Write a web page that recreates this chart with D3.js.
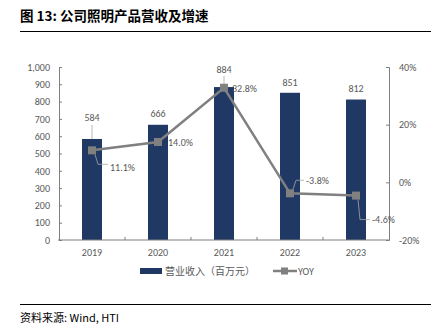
<!DOCTYPE html>
<html><head><meta charset="utf-8">
<script src="https://cdn.jsdelivr.net/npm/d3@7"></script>
<style>body{margin:0;background:#fff}svg{display:block}</style>
</head><body><svg id="c" width="443" height="335"></svg>
<script>
const categories = ["2019","2020","2021","2022","2023"];
const revenue = [584, 666, 884, 851, 812];
const yoy = [11.1, 14.0, 32.8, -3.8, -4.6];
const leftTicks = [0,100,200,300,400,500,600,700,800,900,1000];
const rightTicks = [-20,0,20,40];
const titleText = "图 13: 公司照明产品营收及增速";
const sourceText = "资料来源: Wind, HTI";
const legendLabels = ["营业收入（百万元）","YOY"];

const svg = d3.select("#c");
const font = "Calibri, Carlito, 'Liberation Sans', 'Noto Sans CJK SC', sans-serif";
const cjk = "'Noto Sans CJK SC', sans-serif";
const L = 59, R = 389, T = 67, B = 240;
const barColor = "#203864", lineColor = "#808080", textColor = "#595959";

svg.append("text").attr("x",20).attr("y",21).attr("font-family",cjk).attr("font-size",13.5).attr("font-weight","bold").attr("fill","#000").text(titleText);
svg.append("line").attr("x1",20).attr("x2",431).attr("y1",31.5).attr("y2",31.5).attr("stroke","#000").attr("stroke-width",1);
svg.append("line").attr("x1",20).attr("x2",431).attr("y1",304.5).attr("y2",304.5).attr("stroke","#000").attr("stroke-width",1);
svg.append("text").attr("x",20).attr("y",322).attr("font-family",cjk).attr("font-size",11).attr("fill","#000").text(sourceText);

const xb = d3.scaleBand().domain(categories).range([L,R]);
const y = d3.scaleLinear().domain([0,1000]).range([B,T]);
const y2 = d3.scaleLinear().domain([-20,40]).range([B,T]);

// bars
svg.append("g").selectAll("rect").data(revenue).join("rect")
  .attr("x",(d,i)=>xb(categories[i])+xb.bandwidth()/2-10)
  .attr("width",20)
  .attr("y",d=>y(d)).attr("height",d=>B-y(d)).attr("fill",barColor);

// left axis
const gl = svg.append("g").attr("transform",`translate(${L},0)`)
  .call(d3.axisRight(y).tickValues(leftTicks).tickSize(3).tickFormat(d3.format(",")));
gl.select(".domain").attr("stroke","#7f7f7f");
gl.selectAll(".tick line").attr("stroke","#7f7f7f");
gl.selectAll(".tick text").attr("x",-9).attr("text-anchor","end").attr("font-family",font).attr("font-size",10).attr("fill",textColor);

// right axis
const gr = svg.append("g").attr("transform",`translate(${R},0)`)
  .call(d3.axisLeft(y2).tickValues(rightTicks).tickSize(3).tickFormat(d=>d+"%"));
gr.select(".domain").attr("stroke","#7f7f7f");
gr.selectAll(".tick line").attr("stroke","#7f7f7f");
gr.selectAll(".tick text").attr("x",10).attr("text-anchor","start").attr("font-family",font).attr("font-size",10).attr("fill",textColor);

// bottom axis
const gb = svg.append("g").attr("transform",`translate(0,${B})`)
  .call(d3.axisBottom(xb).tickSize(0));
gb.select(".domain").attr("stroke","#7f7f7f").attr("d",`M${L-1},0H${R}`);
gb.selectAll(".tick text").attr("dy",0).attr("y",16).attr("font-family",font).attr("font-size",10).attr("fill",textColor);
svg.append("g").selectAll("line").data(categories.slice(1)).join("line")
  .attr("x1",d=>xb(d)).attr("x2",d=>xb(d)).attr("y1",B).attr("y2",B-3).attr("stroke","#7f7f7f");

const cx = i => xb(categories[i]) + xb.bandwidth()/2;

// bar labels (baseline offsets from bar top)
const barLabelDy = [-17.5, -7.5, -14.5, -6.5, -7.5];
svg.append("g").selectAll("text").data(revenue).join("text")
  .attr("x",(d,i)=>cx(i)).attr("y",(d,i)=>y(d)+barLabelDy[i])
  .attr("text-anchor","middle").attr("font-family",font).attr("font-size",10).attr("fill",textColor).text(d=>d);
const barLeader = [[0,-14],[2,-11]];
barLeader.forEach(([i,o])=>{
  svg.append("line").attr("x1",cx(i)).attr("x2",cx(i))
    .attr("y1",y(revenue[i])+o).attr("y2",y(revenue[i])).attr("stroke","#a6a6a6").attr("stroke-width",0.8);
});

// line
const line = d3.line().x((d,i)=>cx(i)).y(d=>y2(d));
svg.append("path").datum(yoy).attr("d",line).attr("fill","none").attr("stroke",lineColor).attr("stroke-width",2.5);
svg.append("g").selectAll("rect").data(yoy).join("rect")
  .attr("x",(d,i)=>cx(i)-4).attr("y",d=>y2(d)-4).attr("width",8).attr("height",8).attr("fill",lineColor);

// yoy labels
const lblOff = [[18,17],[10,1],[8,1],[16,-13],[16,24]];
svg.append("g").selectAll("text").data(yoy).join("text")
  .attr("x",(d,i)=>cx(i)+lblOff[i][0]).attr("y",(d,i)=>y2(d)+lblOff[i][1]+3.5)
  .attr("font-family",font).attr("font-size",10).attr("fill",textColor).text(d=>d.toFixed(1)+"%");
const leaders = [[0,[[3,4],[6,14],[16,14]]],[3,[[3,-4],[6,-13],[14,-13]]],[4,[[2,4],[4,24],[14,24]]]];
leaders.forEach(([i,pts])=>{
  svg.append("path").attr("d",d3.line()(pts.map(p=>[cx(i)+p[0], y2(yoy[i])+p[1]])))
    .attr("fill","none").attr("stroke","#a6a6a6").attr("stroke-width",0.8);
});

// legend
const lg = svg.append("g");
lg.append("rect").attr("x",140).attr("y",268).attr("width",22).attr("height",6).attr("fill",barColor);
lg.append("text").attr("x",165).attr("y",275).attr("font-family",cjk).attr("font-size",10).attr("fill",textColor).text(legendLabels[0]);
lg.append("line").attr("x1",273).attr("x2",297).attr("y1",271).attr("y2",271).attr("stroke",lineColor).attr("stroke-width",2.5);
lg.append("rect").attr("x",281).attr("y",267.5).attr("width",7).attr("height",7).attr("fill",lineColor);
lg.append("text").attr("x",298).attr("y",275).attr("font-family",font).attr("font-size",10).attr("fill",textColor).text(legendLabels[1]);
</script></body></html>
